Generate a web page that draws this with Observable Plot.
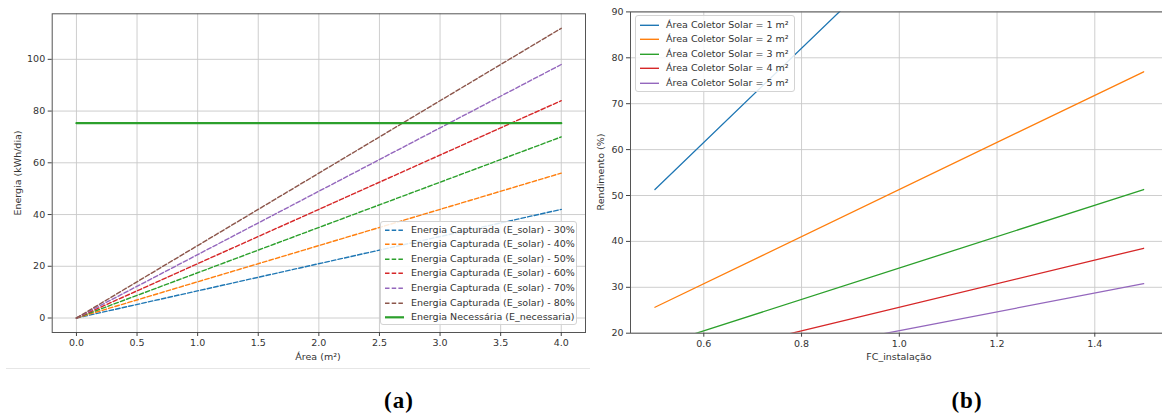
<!DOCTYPE html>
<html><head><meta charset="utf-8">
<script src="https://cdn.jsdelivr.net/npm/d3@7"></script>
<script src="https://cdn.jsdelivr.net/npm/@observablehq/plot@0.6"></script>
<style>
html,body{margin:0;padding:0;width:1162px;height:416px;overflow:hidden;background:#fff;font-family:"DejaVu Sans",sans-serif;}
#root{position:relative;width:1162px;height:416px;overflow:hidden;}
.abs{position:absolute;}
.lbl{position:absolute;font-size:9.5px;color:#333;white-space:nowrap;transform:translate(-50%,-50%);}
.rot{transform:translate(-50%,-50%) rotate(-90deg);}
.cap{position:absolute;font-family:"Liberation Serif",serif;font-weight:bold;font-size:23px;letter-spacing:1px;color:#000;transform:translate(-50%,-50%);}
.legend{position:absolute;border:1px solid #d3d3d3;border-radius:3px;background:rgba(255,255,255,0.85);font-size:9.5px;color:#333;box-sizing:border-box;}
.row{position:absolute;left:0;height:14.6px;line-height:14.6px;white-space:nowrap;}
.row svg{position:absolute;left:3px;top:0;}
.row span{position:absolute;left:30px;top:0;}
</style></head><body>
<div id="root"></div>
<script>
// ---------- Data: panel (a) ----------
const areaM2 = [0, 4];
const seriesA = ["30%", "40%", "50%", "60%", "70%", "80%"];
const eSolar30 = [0, 42];
const eSolar40 = [0, 56];
const eSolar50 = [0, 70];
const eSolar60 = [0, 84];
const eSolar70 = [0, 98];
const eSolar80 = [0, 112];
const eNecessaria = [75.3, 75.3];
const xTicksA = [0, 0.5, 1, 1.5, 2, 2.5, 3, 3.5, 4];
const yTicksA = [0, 20, 40, 60, 80, 100];

// ---------- Data: panel (b) ----------
const fcInstalacao = [0.5, 1.5];
const areasColetor = [1, 2, 3, 4, 5];
const rend1 = [51.3, 153.9];
const rend2 = [25.65, 76.95];
const rend3 = [17.1, 51.3];
const rend4 = [12.8, 38.5];
const rend5 = [10.3, 30.8];
const xTicksB = [0.6, 0.8, 1.0, 1.2, 1.4];
const yTicksB = [20, 30, 40, 50, 60, 70, 80, 90];

const tab10 = ["#1f77b4", "#ff7f0e", "#2ca02c", "#d62728", "#9467bd", "#8c564b"];

const root = document.getElementById("root");
const plotStyle = {fontFamily: "DejaVu Sans, sans-serif", fontSize: "9.5px", color: "#333", background: "transparent", maxWidth: "none", overflow: "visible"};

// build tables
const solarSeries = [eSolar30, eSolar40, eSolar50, eSolar60, eSolar70, eSolar80];
const tableA = [];
solarSeries.forEach((vals, i) => vals.forEach((v, j) => tableA.push({series: seriesA[i], area: areaM2[j], value: v})));
const tableNec = eNecessaria.map((v, j) => ({area: areaM2[j], value: v}));

const plotA = Plot.plot({
  width: 600, height: 370,
  marginLeft: 51.7, marginRight: 15, marginTop: 13.3, marginBottom: 38,
  style: plotStyle,
  x: {domain: [-0.2, 4.2]},
  y: {domain: [-5.6, 117.6]},
  color: {domain: seriesA, range: tab10},
  marks: [
    Plot.gridX(xTicksA, {stroke: "#c8c8c8", strokeOpacity: 1, strokeWidth: 0.9}),
    Plot.gridY(yTicksA, {stroke: "#c8c8c8", strokeOpacity: 1, strokeWidth: 0.9}),
    Plot.line(tableA, {x: "area", y: "value", z: "series", stroke: "series", strokeWidth: 1.4, strokeDasharray: "4.5,2.2"}),
    Plot.line(tableNec, {x: "area", y: "value", stroke: "#2ca02c", strokeWidth: 2.2}),
    Plot.frame({stroke: "#555", strokeWidth: 1}),
    Plot.axisX(xTicksA, {tickSize: 4, tickPadding: 3, stroke: "#444", fill: "#333", label: null, tickFormat: d => d.toFixed(1)}),
    Plot.axisY(yTicksA, {tickSize: 4, tickPadding: 3, stroke: "#444", fill: "#333", label: null})
  ]
});
plotA.style.position = "absolute"; plotA.style.left = "0px"; plotA.style.top = "0px";
root.appendChild(plotA);

const rendSeries = [rend1, rend2, rend3, rend4, rend5];
const namesB = areasColetor.map(a => `Área Coletor Solar = ${a} m²`);
const tableB = [];
rendSeries.forEach((vals, i) => vals.forEach((v, j) => tableB.push({series: namesB[i], fc: fcInstalacao[j], value: v})));

const plotB = Plot.plot({
  width: 600, height: 370,
  marginLeft: 50, marginRight: 12.4, marginTop: 11.4, marginBottom: 37.3,
  style: plotStyle,
  x: {domain: [0.45, 1.55]},
  y: {domain: [20, 90]},
  color: {domain: namesB, range: tab10.slice(0, 5)},
  marks: [
    Plot.gridX(xTicksB, {stroke: "#c8c8c8", strokeOpacity: 1, strokeWidth: 0.9}),
    Plot.gridY(yTicksB, {stroke: "#c8c8c8", strokeOpacity: 1, strokeWidth: 0.9}),
    Plot.line(tableB, {x: "fc", y: "value", z: "series", stroke: "series", strokeWidth: 1.3, clip: true}),
    Plot.frame({stroke: "#555", strokeWidth: 1}),
    Plot.axisX(xTicksB, {tickSize: 4, tickPadding: 3, stroke: "#444", fill: "#333", label: null, tickFormat: d => d.toFixed(1)}),
    Plot.axisY(yTicksB, {tickSize: 4, tickPadding: 3, stroke: "#444", fill: "#333", label: null})
  ]
});
plotB.style.position = "absolute"; plotB.style.left = "580px"; plotB.style.top = "0px";
root.appendChild(plotB);

// ---------- HTML text and legends ----------
function addText(cls, text, x, y) {
  const d = document.createElement("div");
  d.className = cls; d.textContent = text;
  d.style.left = x + "px"; d.style.top = y + "px";
  root.appendChild(d);
}
addText("lbl rot", "Energia (kWh/dia)", 16.7, 172.7);
addText("lbl", "Área (m²)", 318, 356);
addText("lbl rot", "Rendimento (%)", 600, 172);
addText("lbl", "FC_instalação", 899, 356);
addText("cap", "(a)", 399, 401);
addText("cap", "(b)", 967, 401);

const sep = document.createElement("div");
sep.className = "abs";
Object.assign(sep.style, {left: "6px", top: "368px", width: "584px", height: "1px", background: "#e6e6e6"});
root.appendChild(sep);

function legend(x, y, w, h, padTop, entries) {
  const box = document.createElement("div");
  box.className = "legend";
  Object.assign(box.style, {left: x + "px", top: y + "px", width: w + "px", height: h + "px"});
  entries.forEach((e, i) => {
    const r = document.createElement("div");
    r.className = "row";
    r.style.top = (padTop + i * 14.65) + "px";
    r.innerHTML = `<svg width="22" height="14.6"><line x1="1" x2="20" y1="7.3" y2="7.3" stroke="${e.color}" stroke-width="${e.width}" ${e.dash ? `stroke-dasharray="${e.dash}"` : ""}/></svg><span></span>`;
    r.querySelector("span").textContent = e.label;
    box.appendChild(r);
  });
  root.appendChild(box);
}
const legA = seriesA.map((s, i) => ({label: `Energia Capturada (E_solar) - ${s}`, color: tab10[i], width: 1.4, dash: "4.5,2.2"}));
legA.push({label: "Energia Necessária (E_necessaria)", color: "#2ca02c", width: 2.2});
legend(380, 221, 197, 104, 0.5, legA);
legend(635, 15, 160, 77, 1.5, namesB.map((n, i) => ({label: n, color: tab10[i], width: 1.4})));
</script>
</body></html>
